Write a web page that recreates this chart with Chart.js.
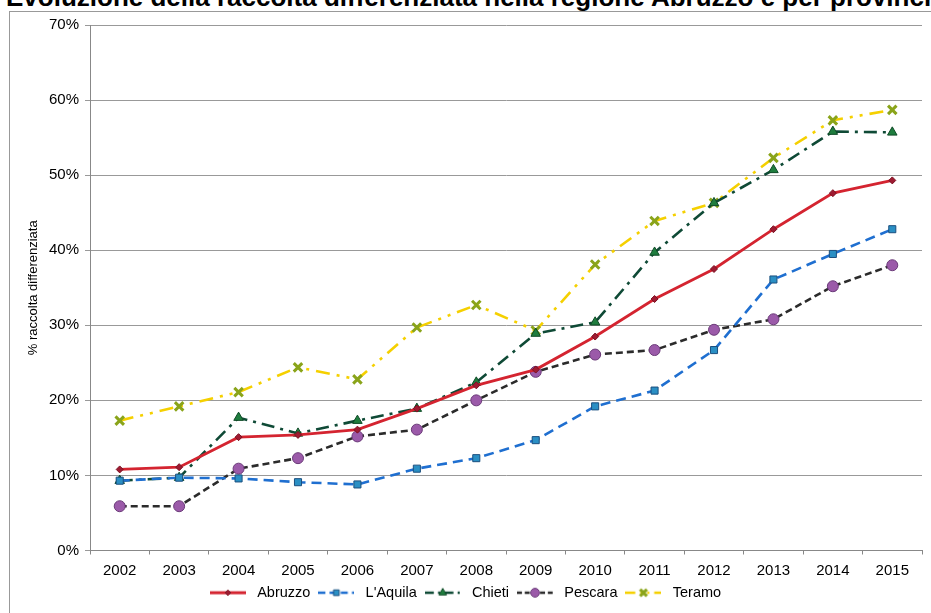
<!DOCTYPE html>
<html>
<head>
<meta charset="utf-8">
<script src="https://cdn.jsdelivr.net/npm/chart.js@4.4.0/dist/chart.umd.min.js"></script>
<style>
  html, body { margin: 0; padding: 0; background: #fff; overflow: hidden; }
  #wrap { position: relative; width: 931px; height: 613px; overflow: hidden; }
  #title {
    position: absolute; left: 6px; top: -16px; white-space: nowrap;
    font: bold 26px "Liberation Sans", Arial, sans-serif; line-height: 26px; color: #000;
  }
  #frame {
    position: absolute; left: 9px; top: 11px; width: 940px; height: 620px;
    border-left: 1px solid #999; border-top: 1px solid #999;
  }
  canvas { position: absolute; left: 0; top: 0; }
</style>
</head>
<body>
<div id="wrap">
  <div id="title">Evoluzione della raccolta differenziata nella regione Abruzzo e per provincia</div>
  <div id="frame"></div>
  <canvas id="chart" width="931" height="613"></canvas>
</div>
<script>
// values, in % of total waste
const years = ['2002', '2003', '2004', '2005', '2006', '2007', '2008', '2009', '2010', '2011', '2012', '2013', '2014', '2015'];
const abruzzo = [10.8, 11.1, 15.1, 15.4, 16.1, 18.9, 22.0, 24.1, 28.5, 33.5, 37.5, 42.8, 47.6, 49.3];
const laquila = [9.3, 9.7, 9.6, 9.1, 8.8, 10.9, 12.3, 14.7, 19.2, 21.3, 26.7, 36.1, 39.5, 42.8];
const chieti = [9.3, 9.7, 17.7, 15.6, 17.3, 18.9, 22.4, 28.9, 30.4, 39.7, 46.3, 50.7, 55.8, 55.7];
const pescara = [5.9, 5.9, 10.9, 12.3, 15.2, 16.1, 20.0, 23.8, 26.1, 26.7, 29.4, 30.8, 35.2, 38.0];
const teramo = [17.3, 19.2, 21.1, 24.4, 22.8, 29.7, 32.7, 29.3, 38.1, 43.9, 46.3, 52.3, 57.3, 58.7];
const yTicks = [0, 10, 20, 30, 40, 50, 60, 70];

const FONT = '"Liberation Sans", Arial, sans-serif';

const series = [
  { label: 'Abruzzo', data: abruzzo, color: '#d42430', dash: [], width: 2.8,
    point: 'rectRot', radius: 3.5, fill: '#9e1b32', edge: '#7a1020', pw: 1 },
  { label: "L'Aquila", data: laquila, color: '#1f6fd0', dash: [10, 6], width: 2.6,
    point: 'rect', radius: 5, fill: '#2a8fc4', edge: '#1b4f7f', pw: 1 },
  { label: 'Chieti', data: chieti, color: '#0f4a36', dash: [13, 6, 3, 6], width: 2.6,
    point: 'triangle', radius: 5.5, fill: '#1f7d3e', edge: '#0e4a26', pw: 1 },
  { label: 'Pescara', data: pescara, color: '#2b2b2b', dash: [7, 4], width: 2.6,
    point: 'circle', radius: 5.5, fill: '#9b5aa9', edge: '#6a3a78', pw: 1 },
  { label: 'Teramo', data: teramo, color: '#f5d000', dash: [14, 7, 3, 7, 3, 7], width: 2.6,
    point: 'crossRot', radius: 6, fill: '#8aa41a', edge: '#8aa41a', pw: 3 },
];

// little line + marker sample, like the spreadsheet legend
function legendSwatch(s) {
  const c = document.createElement('canvas');
  c.width = 36; c.height = 14;
  const ctx = c.getContext('2d');
  ctx.strokeStyle = s.color;
  ctx.lineWidth = s.width;
  ctx.setLineDash(s.dash.length ? s.dash.map((d) => d * 0.7) : []);
  ctx.beginPath(); ctx.moveTo(0, 7); ctx.lineTo(36, 7); ctx.stroke();
  ctx.setLineDash([]);
  ctx.fillStyle = s.fill;
  ctx.strokeStyle = s.edge;
  ctx.lineWidth = s.pw;
  Chart.helpers.drawPoint(ctx, { pointStyle: s.point, radius: s.radius * 0.8, rotation: 0, borderWidth: s.pw }, 18, 7);
  return c;
}

const datasets = series.map((s) => ({
  label: s.label,
  data: s.data,
  borderColor: s.color,
  borderWidth: s.width,
  borderDash: s.dash,
  backgroundColor: s.fill,
  pointStyle: s.point,
  pointRadius: s.radius,
  pointBackgroundColor: s.fill,
  pointBorderColor: s.edge,
  pointBorderWidth: s.pw,
  tension: 0,
  fill: false,
}));

new Chart(document.getElementById('chart'), {
  type: 'line',
  data: { labels: years, datasets },
  options: {
    responsive: false,
    animation: false,
    devicePixelRatio: 1,
    layout: { padding: { left: 0, right: 4, top: 25, bottom: 3 } },
    plugins: {
      title: { display: false },
      tooltip: { enabled: false },
      legend: {
        position: 'bottom',
        labels: {
          font: { family: FONT, size: 14.5 },
          color: '#000',
          usePointStyle: true,
          pointStyleWidth: 44,
          padding: 4,
          generateLabels: (chart) => series.map((s, i) => ({
            text: s.label,
            pointStyle: legendSwatch(s),
            fillStyle: s.fill,
            strokeStyle: s.color,
            lineWidth: 0,
            datasetIndex: i,
            hidden: false,
          })),
        },
      },
    },
    scales: {
      x: {
        offset: true,
        afterFit: (scale) => { scale.height = 31; },
        grid: { drawOnChartArea: false, drawTicks: true, tickLength: 4, color: '#888', offset: true },
        border: { color: '#888' },
        ticks: { font: { family: FONT, size: 15 }, color: '#000', padding: 7, maxRotation: 0 },
      },
      y: {
        min: 0,
        max: 70,
        afterBuildTicks: (scale) => { scale.ticks = yTicks.map((v) => ({ value: v })); },
        afterFit: (scale) => { scale.width = 90; },
        grid: { color: '#999', tickLength: 5 },
        border: { color: '#888' },
        ticks: { font: { family: FONT, size: 15 }, color: '#000', padding: 6, callback: (v) => v + '%' },
        title: { display: true, text: '% raccolta differenziata', font: { family: FONT, size: 13 }, color: '#000', padding: { top: 26, bottom: 0 } },
      },
    },
  },
});
</script>
</body>
</html>
